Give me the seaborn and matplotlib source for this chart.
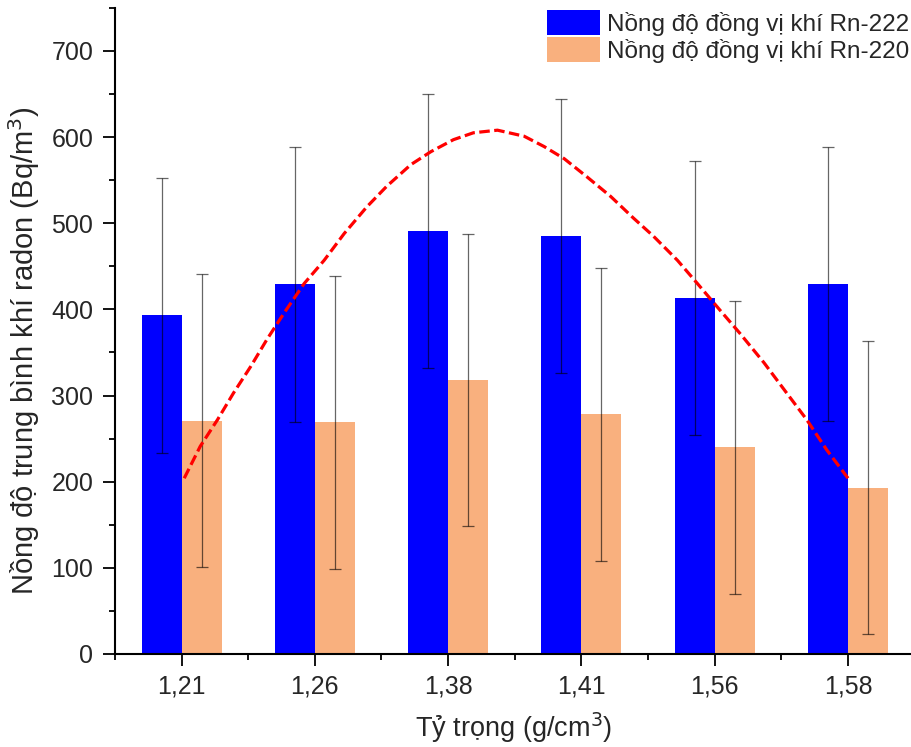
import matplotlib
matplotlib.use("Agg")
import matplotlib.pyplot as plt
from matplotlib.ticker import MultipleLocator, FixedLocator
import seaborn as sns
import pandas as pd

# values
densities = ['1,21', '1,26', '1,38', '1,41', '1,56', '1,58']
series_names = ['Nồng độ đồng vị khí Rn-222', 'Nồng độ đồng vị khí Rn-220']
rn222 = [393, 429, 491, 485, 413, 429]
rn222_err = [160, 160, 159, 159, 159, 159]
rn220 = [271, 269, 318, 278, 240, 193]
rn220_err = [170, 170, 170, 170, 170, 170]

# fitted trend (red dashed), x in category units
trend_x = [0.02, 0.14, 0.27, 0.39, 0.52, 0.64, 0.77, 0.92, 1.07, 1.22, 1.39,
           1.54, 1.72, 1.87, 2.04, 2.19, 2.37, 2.57, 2.72, 2.87, 3.04, 3.22,
           3.39, 3.54, 3.72, 3.87, 4.04, 4.19, 4.37, 4.52, 4.69, 4.84, 5.0]
trend_y = [204, 241, 272, 303, 334, 365, 396, 430, 457, 488, 519,
           543, 568, 583, 597, 605, 608, 601, 589, 575, 554, 531,
           506, 485, 457, 430, 399, 372, 338, 307, 272, 237, 204]

colors = ['#0000FF', '#F9B07E']

df = pd.DataFrame({
    'density': densities * 2,
    'value': rn222 + rn220,
    'series': [series_names[0]] * len(densities) + [series_names[1]] * len(densities),
})

sns.set_style('ticks')
plt.rcParams['font.family'] = ['Liberation Sans', 'DejaVu Sans']

fig = plt.figure(figsize=(9.12, 7.47), dpi=100)
ax = fig.add_axes([0.126, 0.1245, 0.874, 0.865])

sns.barplot(data=df, x='density', y='value', hue='series', order=densities,
            hue_order=series_names, palette=colors, width=0.6, saturation=1,
            errorbar=None, linewidth=0, edgecolor='none', ax=ax)

# error bars on top of each bar
for cont, vals, errs in zip(ax.containers, [rn222, rn220], [rn222_err, rn220_err]):
    xs = [p.get_x() + p.get_width() / 2 for p in cont]
    ax.errorbar(xs, vals, yerr=errs, fmt='none', ecolor='black', alpha=0.6,
                elinewidth=0.9, capsize=4.3, capthick=0.9, zorder=4)

ax.plot(trend_x, trend_y, color='#FF0000', lw=2.3, linestyle=(0, (3.3, 1.4)), zorder=5)

ax.set_xlim(-0.5, 5.48)
ax.set_ylim(0, 750)
ax.yaxis.set_major_locator(MultipleLocator(100))
ax.yaxis.set_minor_locator(MultipleLocator(50))
ax.xaxis.set_minor_locator(FixedLocator([i - 0.5 for i in range(len(densities) + 1)]))

sns.despine(ax=ax)
for s in ['left', 'bottom']:
    ax.spines[s].set_linewidth(1.5)
    ax.spines[s].set_color('black')
ax.tick_params(which='major', length=8.6, width=1.3, labelsize=18, pad=7, color='black')
ax.tick_params(which='minor', length=4, width=1.3, color='black')
ax.tick_params(axis='x', which='major', pad=6)

ax.set_xlabel('Tỷ trọng (g/cm$^3$)', fontsize=19.5, labelpad=9)
ax.set_ylabel('Nồng độ trung bình khí radon (Bq/m$^3$)', fontsize=21)
ax.yaxis.set_label_coords(-0.092, 0.469)

ax.legend(loc='upper right', bbox_to_anchor=(1.0, 1.0), frameon=False, fontsize=17.5,
          handlelength=2.18, handleheight=1.2, handletextpad=0.3, labelspacing=0.05,
          borderaxespad=0.0, borderpad=0.1)

fig.savefig('out.png', dpi=100)
